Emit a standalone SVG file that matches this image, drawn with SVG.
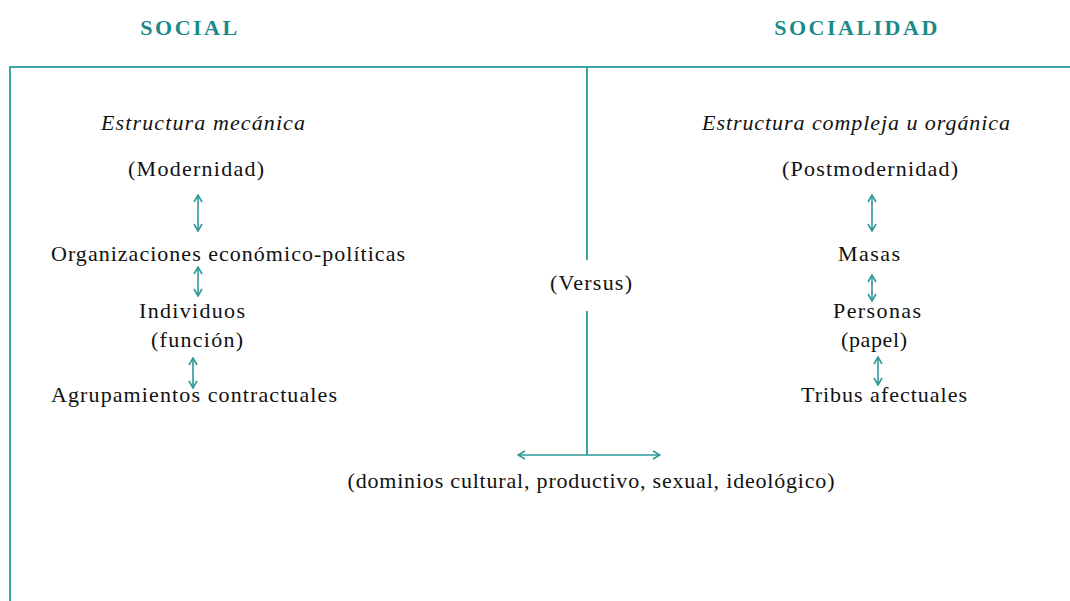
<svg xmlns="http://www.w3.org/2000/svg" width="1070" height="601" viewBox="0 0 1070 601">
<style>
.t{font-family:"Liberation Serif",serif;font-size:22px;fill:#111;text-anchor:middle}
.i{font-style:italic}
.h{font-family:"Liberation Serif",serif;font-size:22px;font-weight:bold;fill:#1a8a8a;text-anchor:middle;letter-spacing:2.5px}
.ln{stroke:#3aa3a3;stroke-width:2;fill:none}
.ar{stroke:#2f9898;stroke-width:1.6;fill:none;marker-start:url(#ah);marker-end:url(#ah)}
</style>
<defs>
<marker id="ah" viewBox="0 0 10 10" refX="9" refY="5" markerWidth="10" markerHeight="10" markerUnits="userSpaceOnUse" orient="auto-start-reverse">
<polyline points="2,1 9,5 2,9" fill="none" stroke="#2f9898" stroke-width="1.6"/>
</marker>
</defs>
<g id="frame">
<line class="ln" x1="10" y1="67" x2="1070" y2="67"/>
<line class="ln" x1="10" y1="66" x2="10" y2="601"/>
</g>
<g id="connectors">
<line class="ln" x1="587" y1="67" x2="587" y2="260"/>
<line class="ln" x1="587" y1="311" x2="587" y2="455"/>
<line class="ar" x1="518" y1="455" x2="660" y2="455"/>
<line class="ar" x1="198" y1="195" x2="198" y2="231"/>
<line class="ar" x1="198" y1="267" x2="198" y2="296"/>
<line class="ar" x1="193" y1="358" x2="193" y2="388"/>
<line class="ar" x1="872" y1="195" x2="872" y2="231"/>
<line class="ar" x1="872" y1="275" x2="872" y2="301"/>
<line class="ar" x1="878" y1="357" x2="878" y2="385"/>
</g>
<g id="social"><text class="h" x="190" y="35">SOCIAL</text></g>
<g id="socialidad"><text class="h" x="857" y="35">SOCIALIDAD</text></g>
<g id="estructura-mecanica"><text class="t i" x="203" y="130" textLength="204">Estructura mecánica</text></g>
<g id="modernidad"><text class="t" x="196" y="176" textLength="136">(Modernidad)</text></g>
<g id="organizaciones"><text class="t" x="228" y="261" textLength="354">Organizaciones económico-políticas</text></g>
<g id="individuos"><text class="t" x="192" y="318" textLength="106">Individuos</text><text class="t" x="197" y="347" textLength="92">(función)</text></g>
<g id="agrupamientos"><text class="t" x="194" y="402" textLength="286">Agrupamientos contractuales</text></g>
<g id="estructura-compleja"><text class="t i" x="856" y="130" textLength="308">Estructura compleja u orgánica</text></g>
<g id="postmodernidad"><text class="t" x="870" y="176" textLength="176">(Postmodernidad)</text></g>
<g id="masas"><text class="t" x="869" y="261" textLength="62">Masas</text></g>
<g id="personas"><text class="t" x="877" y="318" textLength="88">Personas</text><text class="t" x="874" y="347" textLength="66">(papel)</text></g>
<g id="tribus"><text class="t" x="884" y="402" textLength="166">Tribus afectuales</text></g>
<g id="versus"><text class="t" x="591" y="290" textLength="82">(Versus)</text></g>
<g id="dominios"><text class="t" x="591" y="488" textLength="487">(dominios cultural, productivo, sexual, ideológico)</text></g>
</svg>
